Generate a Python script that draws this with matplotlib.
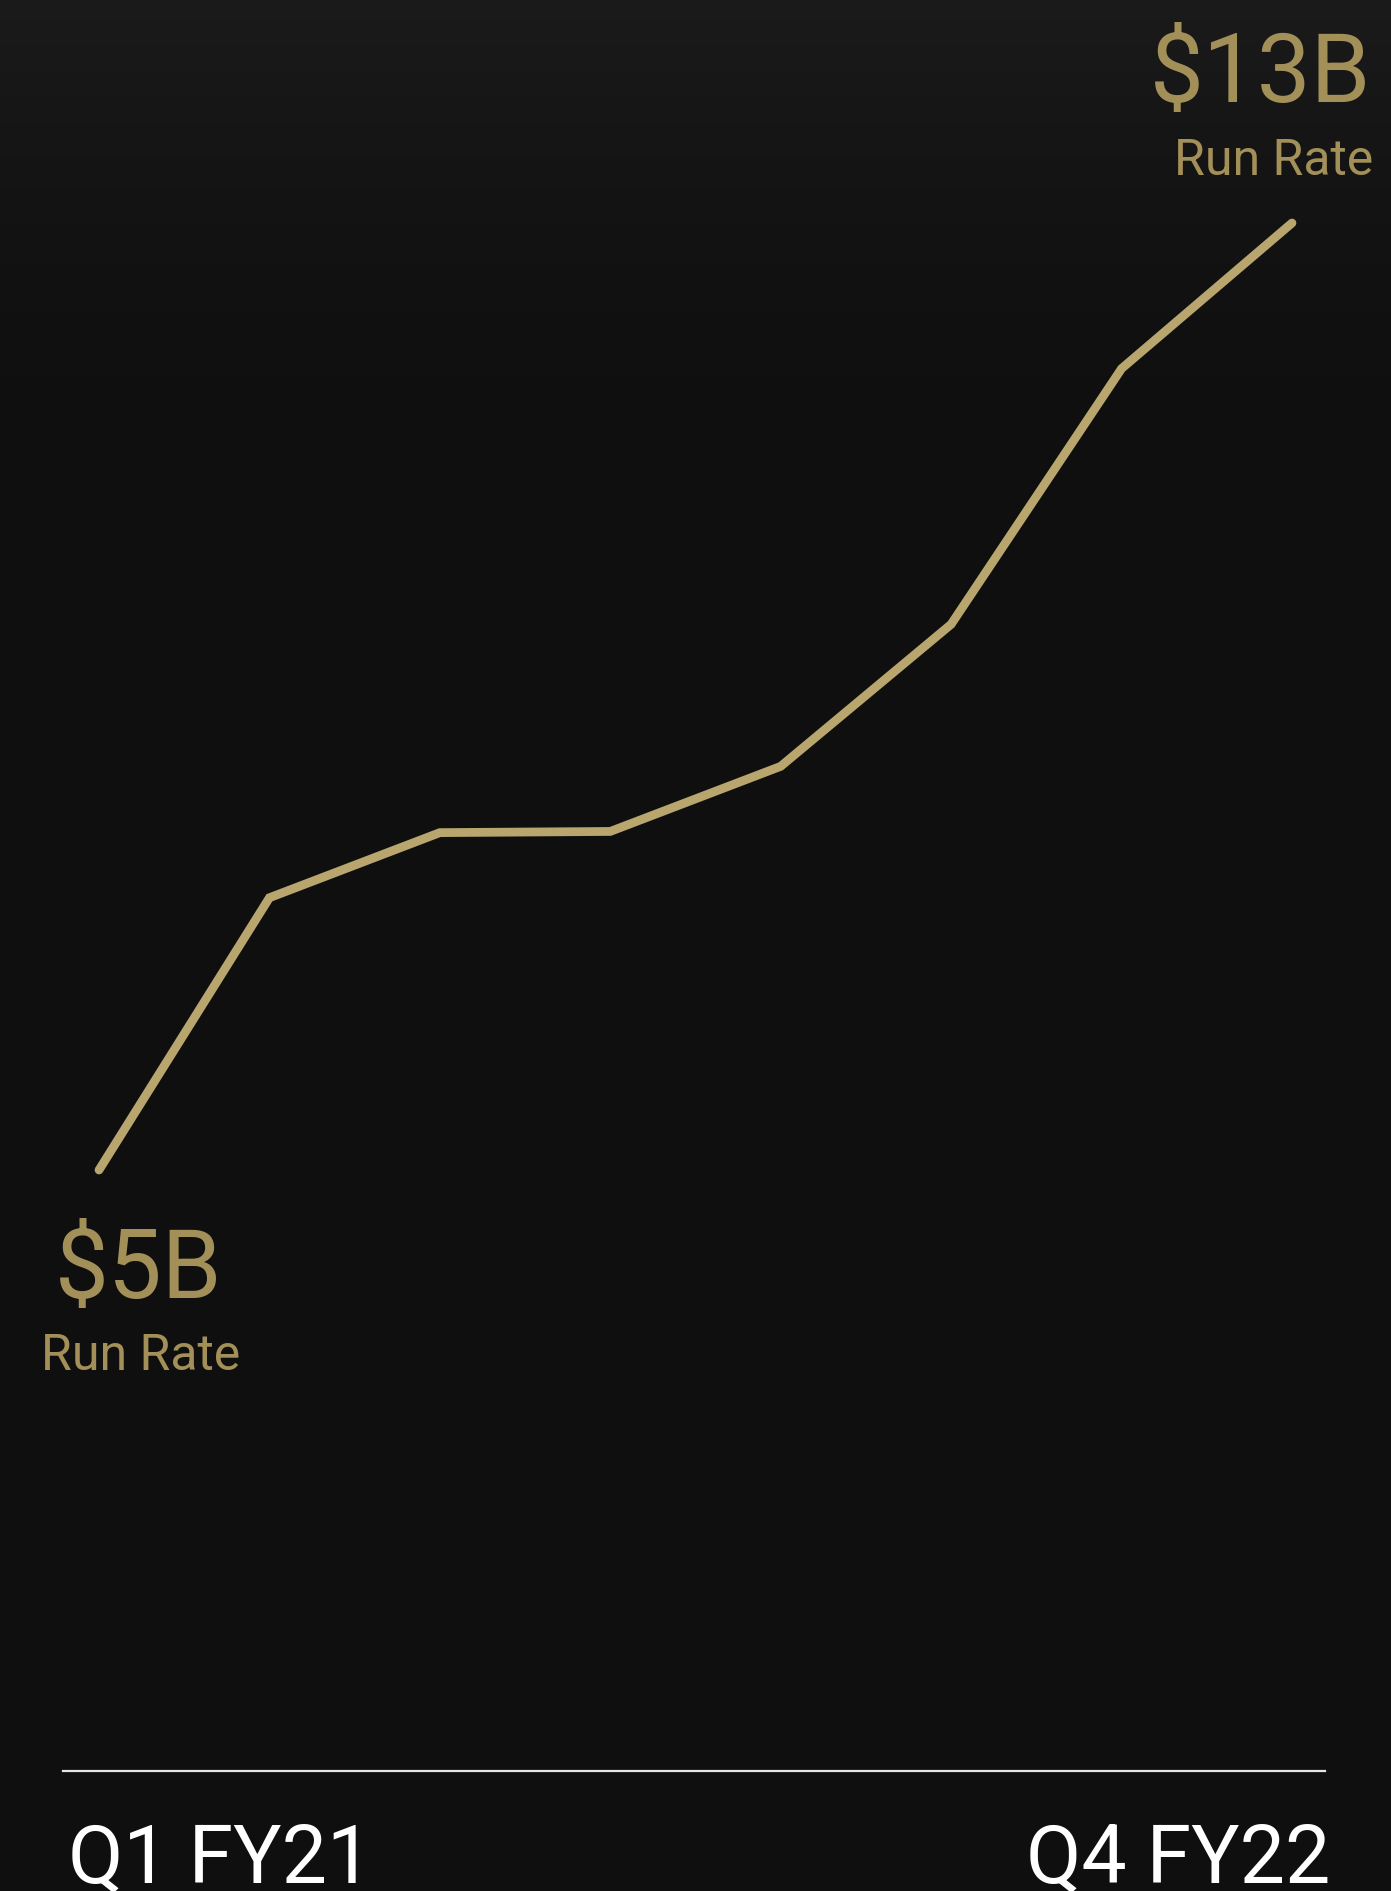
import matplotlib
matplotlib.use("Agg")
import matplotlib.pyplot as plt
import numpy as np

quarters = ['Q1 FY21', 'Q2 FY21', 'Q3 FY21', 'Q4 FY21', 'Q1 FY22', 'Q2 FY22', 'Q3 FY22', 'Q4 FY22']
run_rate = [5.0, 7.30, 7.85, 7.86, 8.41, 9.61, 11.77, 13.0]  # $B

W, H = 1391, 1891
plt.rcParams['font.family'] = ['Roboto', 'DejaVu Sans']

fig = plt.figure(figsize=(W / 100, H / 100), dpi=100)
fig.patch.set_facecolor('#0f0f0f')
ax = fig.add_axes([0, 0, 1, 1])
ax.set_facecolor('#0f0f0f')

# soft lighter band at the top of the background
grad = np.linspace(1, 0, 256) ** 2
grad = grad[:, None] * np.ones((1, 4))
bg = np.zeros((256, 4, 3))
for i in range(3):
    bg[:, :, i] = (0x0f + (0x1b - 0x0f) * grad) / 255
ax.imshow(bg, extent=[0, 1, 0.72, 1], transform=ax.transAxes, aspect='auto', zorder=0)

x = np.arange(len(quarters))
ax.plot(x, run_rate, color='#b9a66e', lw=6.3, solid_capstyle='round', solid_joinstyle='miter', zorder=3)

px_x = 170.43
ax.set_xlim(-99 / px_x, 7 + (W - 1292) / px_x)
px_y = 118.375
ax.set_ylim(5 - (H - 1170) / px_y, 13 + 223 / px_y)
ax.axis('off')

# baseline
ax.plot([63 / W, 1325 / W], [1 - 1771 / H, 1 - 1771 / H], transform=ax.transAxes,
        color='#e6e6e6', lw=1.6, zorder=2)

gold = '#a38f58'
fig.text(139 / W, 1 - 1298 / H, '$5B', color=gold, fontsize=69, ha='center', va='baseline')
fig.text(141 / W, 1 - 1370 / H, 'Run Rate', color=gold, fontsize=36, ha='center', va='baseline')
fig.text(1371 / W, 1 - 102 / H, '$13B', color=gold, fontsize=69, ha='right', va='baseline')
fig.text(1373 / W, 1 - 175 / H, 'Run Rate', color=gold, fontsize=36, ha='right', va='baseline')

fig.text(68 / W, 1 - 1883 / H, quarters[0], color='white', fontsize=58, ha='left', va='baseline')
fig.text(1330 / W, 1 - 1883 / H, quarters[-1], color='white', fontsize=58, ha='right', va='baseline')

fig.savefig('out.png', dpi=100, facecolor=fig.get_facecolor())
